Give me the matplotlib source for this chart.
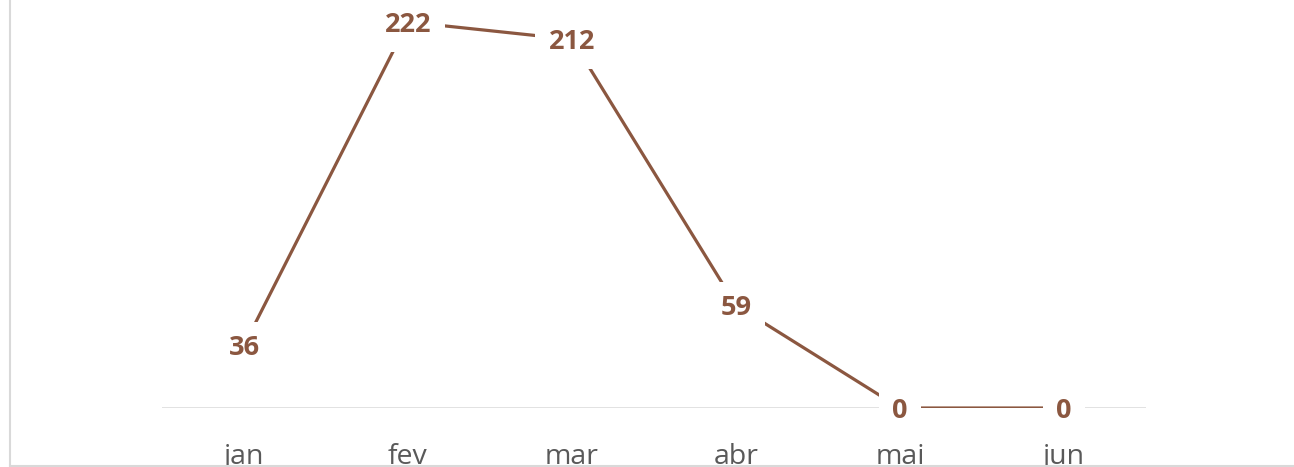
import matplotlib
matplotlib.use("Agg")
import matplotlib.pyplot as plt
from matplotlib.lines import Line2D

months = ["jan", "fev", "mar", "abr", "mai", "jun"]
values = [36, 222, 212, 59, 0, 0]

LINE = "#8B5740"
GRID = "#D9D9D9"
TICK = "#595959"

plt.rcParams["font.family"] = ["Open Sans", "DejaVu Sans"]

W, H = 1294, 467
fig = plt.figure(figsize=(W / 100, H / 100), dpi=100)

# axes placed in pixel terms: x from 162 to 1146, y=0 at 408 px from top
y0 = (H - 408) / H
ymax = 250
px_per_unit = 386 / 222
ax = fig.add_axes([162 / W, y0, 984 / W, ymax * px_per_unit / H])

xs = list(range(len(months)))
ax.plot(xs, values, color=LINE, linewidth=2.3, solid_capstyle="butt", zorder=2)
ax.axhline(0, color=GRID, linewidth=1.8, zorder=1)

for x, v in zip(xs, values):
    ax.text(x, v, str(v), ha="center", va="center_baseline", fontsize=19.5, fontweight="bold",
            color=LINE, zorder=3,
            bbox=dict(boxstyle="square,pad=0.5", facecolor="white", edgecolor="none"))

ax.set_xlim(-0.5, len(months) - 0.5)
ax.set_ylim(0, ymax)
ax.set_xticks(xs)
ax.set_xticklabels(months, fontsize=20.5, color=TICK)
ax.tick_params(axis="x", length=0, pad=25)
ax.set_yticks([])
for s in ax.spines.values():
    s.set_visible(False)
ax.patch.set_alpha(0)

# chart-area border (left and bottom visible)
fig.add_artist(Line2D([9.5 / W, 9.5 / W], [1 / H, 1], transform=fig.transFigure,
                      color=GRID, linewidth=1.5))
fig.add_artist(Line2D([9.5 / W, 1], [1 / H, 1 / H], transform=fig.transFigure,
                      color=GRID, linewidth=1.5))

fig.savefig("out.png", dpi=100)
